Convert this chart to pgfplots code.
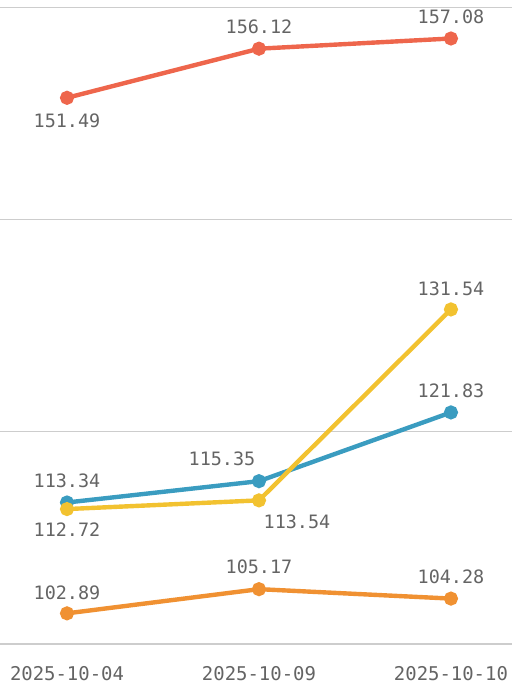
\documentclass[border=0pt]{standalone}
\usepackage{pgfplots}
\usepackage{fontspec}
\setmonofont{DejaVu Sans Mono}
\pgfplotsset{compat=1.18}
\definecolor{cRed}{RGB}{238,102,76}
\definecolor{cBlue}{RGB}{58,156,192}
\definecolor{cYellow}{RGB}{242,194,48}
\definecolor{cOrange}{RGB}{240,145,50}
\definecolor{labgray}{RGB}{100,100,100}
\definecolor{gridgray}{RGB}{205,205,205}

\begin{document}
\begin{tikzpicture}
\path[use as bounding box] (0,-43bp) rectangle (512bp,644bp);
\begin{axis}[
  at={(0,0)}, anchor=south west,
  scale only axis,
  width=512bp, height=644bp,
  xmin=-0.349, xmax=2.318,
  ymin=100, ymax=160.71,
  axis line style={draw=none},
  ytick={100,120,140,160},
  yticklabels={},
  ymajorgrids,
  grid style={gridgray, line width=1.2bp},
  major tick length=0pt,
  xtick={0,1,2},
  xticklabels={2025-10-04,2025-10-09,2025-10-10},
  every x tick label/.append style={anchor=center, yshift=-30bp, text=labgray,
     font=\fontsize{19}{20}\selectfont\ttfamily},
  /pgf/number format/assume math mode=true,
  clip=false,
  line/.style={line width=4.4bp, mark=*, mark size=4.8bp, mark options={solid}},
  lab/.style={draw=none, mark=none, point meta=y,
    nodes near coords={\pgfmathprintnumber[fixed,fixed zerofill,precision=2]{\pgfplotspointmeta}},
    every node near coord/.append style={anchor=center, text=labgray,
       font=\fontsize{18.5}{20}\selectfont\ttfamily, #1}},
]
% series 1 (red)
\addplot[line, color=cRed] coordinates {(0,151.49) (1,156.12) (2,157.08)};
% series 2 (blue)
\addplot[line, color=cBlue] coordinates {(0,113.34) (1,115.35) (2,121.83)};
% series 3 (yellow)
\addplot[line, color=cYellow] coordinates {(0,112.72) (1,113.54) (2,131.54)};
% series 4 (orange)
\addplot[line, color=cOrange] coordinates {(0,102.89) (1,105.17) (2,104.28)};
% labels
\addplot[lab={yshift=-23bp}] coordinates {(0,151.49)};
\addplot[lab={yshift=22bp}] coordinates {(1,156.12) (2,157.08)};
\addplot[lab={yshift=22bp}] coordinates {(0,113.34) (2,121.83)};
\addplot[lab={yshift=22bp, xshift=-37bp}] coordinates {(1,115.35)};
\addplot[lab={yshift=-21bp}] coordinates {(0,112.72)};
\addplot[lab={yshift=-21bp, xshift=38bp}] coordinates {(1,113.54)};
\addplot[lab={yshift=21bp}] coordinates {(2,131.54)};
\addplot[lab={yshift=21bp}] coordinates {(0,102.89)};
\addplot[lab={yshift=22bp}] coordinates {(1,105.17) (2,104.28)};
\end{axis}
\end{tikzpicture}
\end{document}
